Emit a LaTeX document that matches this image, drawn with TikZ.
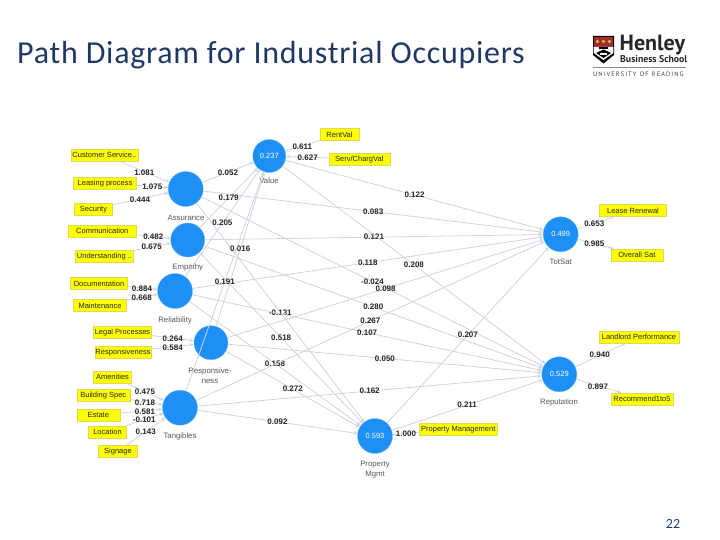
\documentclass[tikz,border=0pt]{standalone}
\usepackage{fontspec}
\setmainfont{Liberation Sans}
\newfontfamily\titlefont[LetterSpace=2.3]{Carlito}
\newfontfamily\logofont{PT Sans}
\usetikzlibrary{arrows.meta}
\definecolor{palette_bleu}{HTML}{1E90F5}
\definecolor{palette_titre}{HTML}{1F3864}
\definecolor{palette_trait}{HTML}{CDD3DF}
\definecolor{palette_jaune}{HTML}{FFFF00}
\definecolor{palette_bord}{HTML}{DCDC50}
\definecolor{palette_gris}{HTML}{555560}
\definecolor{palette_rouge}{HTML}{A02A2A}
\definecolor{palette_or}{HTML}{E0B030}
\tikzset{
    latent/.style={circle,fill=palette_bleu,draw=palette_bleu!70,line width=0.3pt,minimum size=#1,inner sep=0pt,text=white,font=\fontsize{7.5}{8}\selectfont},
    latent/.default=35pt,
    indicator/.style={rectangle,fill=palette_jaune,draw=palette_bord,line width=0.5pt,inner sep=0pt,text height=6.5pt,text depth=1.1pt,minimum height=12pt,text=black!85,font=\fontsize{7.5}{8}\selectfont},
    pathline/.style={draw=palette_trait,line width=0.8pt,-{Stealth[length=4pt,width=3.5pt]}},
    weight/.style={inner sep=0pt,text=black!85,font=\fontsize{8}{9}\selectfont\bfseries},
    caption/.style={inner sep=0pt,text=palette_gris,align=center,font=\fontsize{7.8}{10}\selectfont},
}
\begin{document}
\begin{tikzpicture}[x=1pt,y=-1pt]
    \useasboundingbox (0,0) rectangle (720,540);
    
    % heading and page number
    \node[anchor=west,inner sep=0pt,text=palette_titre,font=\titlefont\fontsize{32}{34}\selectfont] (title) at (17,55) {Path Diagram for Industrial Occupiers};
    \node[inner sep=0pt,text=palette_titre,font=\titlefont\fontsize{14}{16}\selectfont] (pagenum) at (673,524) {22};
    
    % logo
    \fill[black] (593,36) -- (614,36) -- (614,55) -- (603.5,63.5) -- (593,55) -- cycle;
    \fill[palette_rouge] (593.7,36.7) rectangle (613.3,47);
    \fill[white] (593.7,47) -- (613.3,47) -- (613.3,53) -- (603.5,60) -- (593.7,53) -- cycle;
    \fill[black] (599,47) rectangle (608,49.5);
    \fill[black] (596,53) -- (603.5,49.5) -- (611,53) -- (603.5,58) -- cycle;
    \fill[white] (600,53) rectangle (607,55);
    \foreach \x in {597.5,603.5,609.5}
        \fill[palette_or] (\x,41.5) circle (1.9);
    \node[anchor=west,inner sep=0pt,font=\logofont\bfseries\fontsize{22}{23}\selectfont,text=black!85] (henley) at (619.5,45) {Henley};
    \node[anchor=west,inner sep=0pt,font=\logofont\bfseries\fontsize{9.8}{11}\selectfont,text=black!85] (school) at (620,59.5) {Business School};
    \draw[black!45,line width=0.6pt] (593,67.5) -- (686,67.5);
    \node[anchor=west,inner sep=0pt,font=\logofont\fontsize{6.4}{7}\selectfont,text=black!75] (reading) at (593,74) {U\,N\,I\,V\,E\,R\,S\,I\,T\,Y\ \ O\,F\ \ R\,E\,A\,D\,I\,N\,G};
    
    % constructs
    \node[latent] (assurance) at (185.7,189) {};
    \node[latent=34pt] (empathy) at (187.7,240) {};
    \node[latent] (reliability) at (175,291) {};
    \node[latent=34pt] (responsive) at (211,342.7) {};
    \node[latent] (tangibles) at (180,407.7) {};
    \node[latent=33pt] (value) at (269.3,156) {0.237};
    \node[latent] (totsat) at (560.7,234.3) {0.499};
    \node[latent] (reputation) at (559.3,374.3) {0.529};
    \node[latent] (mgmt) at (375,436) {0.593};
    
    \node[caption] (assurancetxt) at (186,217.7) {Assurance};
    \node[caption] (empathytxt) at (187.7,267.7) {Empathy};
    \node[caption] (reliabilitytxt) at (175,320.3) {Reliability};
    \node[caption] (responsivetxt) at (210,376) {Responsive-\\ness};
    \node[caption] (tangiblestxt) at (180,436) {Tangibles};
    \node[caption] (valuetxt) at (269,181) {Value};
    \node[caption] (totsattxt) at (560.7,262.3) {TotSat};
    \node[caption] (reputationtxt) at (559,402.7) {Reputation};
    \node[caption] (mgmttxt) at (375,470) {Property\\Mgmt};
    
    % measures
    \foreach \id/\x/\y/\w/\txt in {
        custserv/104.3/155/67/Customer Service..,
        leasing/105/183/63/Leasing process,
        security/93.5/209/38/Security,
        commun/102.3/231/68/Communication,
        underst/104.5/256/58/Understanding ..,
        document/99/283.7/57/Documentation,
        mainten/100/305.5/53/Maintenance,
        legal/122.5/332/58/Legal Processes,
        respons/123/352/56/Responsiveness,
        amenities/112.5/377/38/Amenities,
        building/103.3/395/53/Building Spec,
        estate/98.3/415/43/Estate,
        location/107.5/432/38/Location,
        signage/118/451/39/Signage,
        rentval/339.5/134.5/39/RentVal,
        servval/359.3/159/61/{Serv/ChargVal},
        propman/458.3/429/78/Property Management,
        renewal/633/210.5/67/Lease Renewal,
        overall/636.8/255/52/Overall Sat,
        landlord/639/337/80/Landlord Performance,
        recommend/642/399/62/Recommend1to5}
        \node[indicator,minimum width=\w pt] (\id) at (\x,\y) {\txt};
    
    % inner model, weights sit at the middle of each line
    \foreach \from/\to/\val [count=\i] in {
        assurance/value/0.052, assurance/totsat/0.083, assurance/reputation/-0.024, assurance/mgmt/-0.131,
        empathy/value/0.179, empathy/totsat/0.121, empathy/reputation/0.280, empathy/mgmt/0.518,
        reliability/value/0.205, reliability/totsat/0.118, reliability/reputation/0.107, reliability/mgmt/0.158,
        responsive/value/0.016, responsive/totsat/0.098, responsive/reputation/0.050, responsive/mgmt/0.272,
        tangibles/value/0.191, tangibles/totsat/0.267, tangibles/reputation/0.162, tangibles/mgmt/0.092,
        value/totsat/0.122, value/reputation/0.208, mgmt/totsat/0.207, mgmt/reputation/0.211}
        \draw[pathline] (\from) -- node[weight] (inner\i) {\val} (\to);
    
    % outer model
    \foreach \from/\to in {
        custserv/assurance, leasing/assurance, security/assurance,
        commun/empathy, underst/empathy,
        document/reliability, mainten/reliability,
        legal/responsive, respons/responsive,
        amenities/tangibles, building/tangibles, estate/tangibles, location/tangibles, signage/tangibles,
        rentval/value, servval/value, propman/mgmt,
        totsat/renewal, totsat/overall, reputation/landlord, reputation/recommend}
        \draw[pathline] (\from) -- (\to);
    
    \foreach \x/\y/\val [count=\i] in {
        144.3/172.3/1.081, 152.3/187/1.075, 140/199.3/0.444,
        153.3/236.7/0.482, 151.7/246.7/0.675,
        142/288.3/0.884, 141.7/297.3/0.668,
        172.7/338.7/0.264, 172.7/347.3/0.584,
        145/392/0.475, 145/402.3/0.718, 145/411.3/0.581, 144.3/419.7/-0.101, 145.7/431.7/0.143,
        302.3/146.7/0.611, 307.7/157.7/0.627, 406/433.3/1.000,
        594.3/223.3/0.653, 594.3/243.7/0.985, 599.7/355/0.940, 598/386.3/0.897}
        \node[weight] (outer\i) at (\x,\y) {\val};
    
\end{tikzpicture}
\end{document}
